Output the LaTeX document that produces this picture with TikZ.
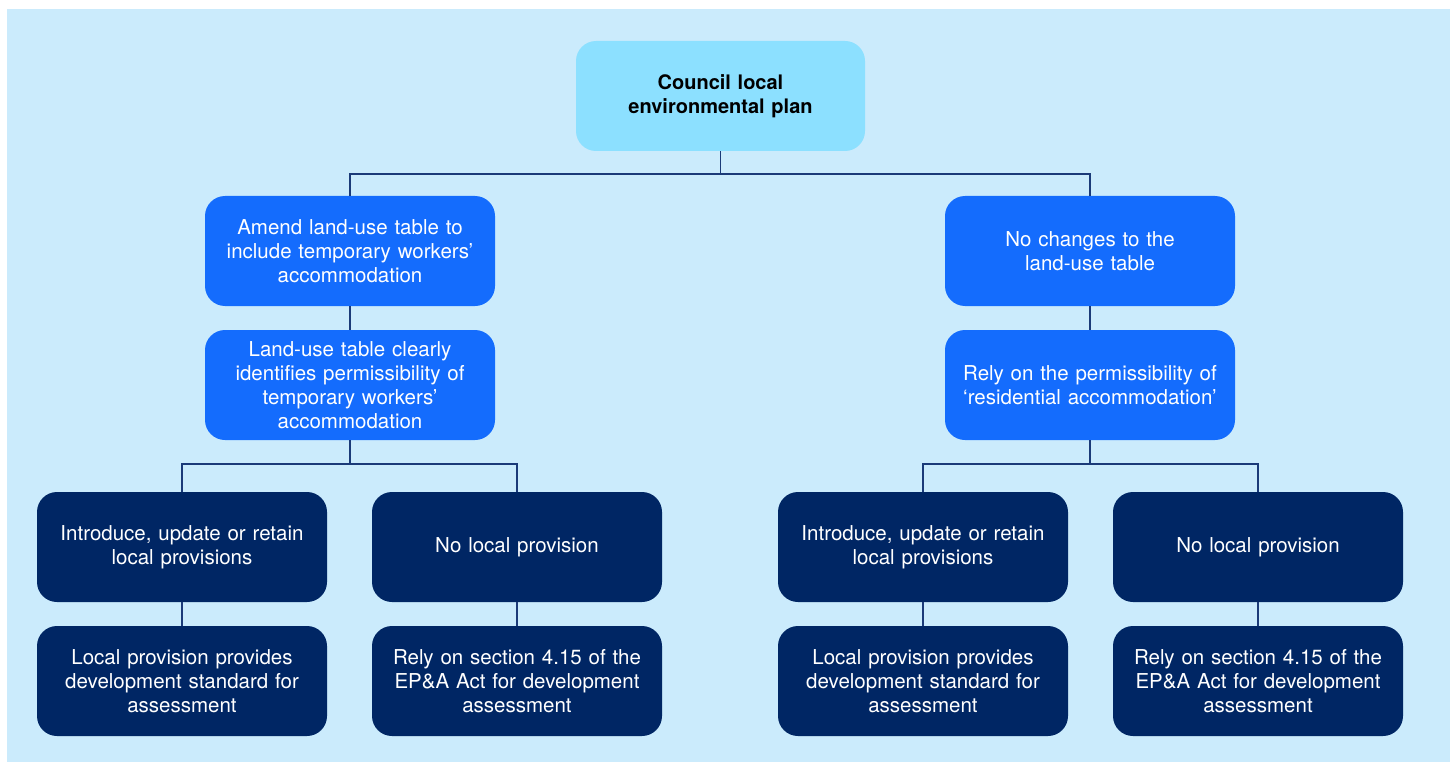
\documentclass[tikz,border=0pt]{standalone}
\usepackage{fontspec}
\setmainfont{TeX Gyre Heros}
\definecolor{bgc}{HTML}{CBEBFC}
\definecolor{topc}{HTML}{8CE0FF}
\definecolor{bluec}{HTML}{146CFD}
\definecolor{navyc}{HTML}{002664}
\definecolor{linec}{HTML}{1B3A78}
\begin{document}
\begin{tikzpicture}[x=1pt,y=-1pt,
  box/.style={rounded corners=20pt, minimum width=290pt, minimum height=110pt,
    text width=285pt, align=center, inner sep=0pt,
    font=\fontsize{20.5}{24}\selectfont},
  topbox/.style={box, fill=topc, minimum width=289pt, text=black, font=\fontsize{20}{24}\selectfont\bfseries},
  bluebox/.style={box, fill=bluec, text=white},
  navybox/.style={box, fill=navyc, text=white},
  conn/.style={draw=linec, line width=1.4pt}]
\useasboundingbox (0,0) rectangle (1450,762);
\fill[bgc] (7,9) rectangle (1450,762);

\node[topbox] (top) at (720.5,96) {Council local\\environmental plan};

\node[bluebox] (a1) at (350,251) {Amend land-use table to\\include temporary workers’\\accommodation};
\node[bluebox] (a2) at (350,385) {Land-use table clearly\\identifies permissibility of\\temporary workers’\\accommodation};
\node[bluebox] (b1) at (1090,251) {No changes to the\\land-use table};
\node[bluebox] (b2) at (1090,385) {Rely on the permissibility of\\‘residential accommodation’};

\node[navybox] (c1) at (182,547) {Introduce, update or retain\\local provisions};
\node[navybox] (c2) at (517,547) {No local provision};
\node[navybox] (c3) at (923,547) {Introduce, update or retain\\local provisions};
\node[navybox] (c4) at (1258,547) {No local provision};

\node[navybox] (d1) at (182,681) {Local provision provides\\development standard for\\assessment};
\node[navybox] (d2) at (517,681) {Rely on section 4.15 of the\\EP\&A Act for development\\assessment};
\node[navybox] (d3) at (923,681) {Local provision provides\\development standard for\\assessment};
\node[navybox] (d4) at (1258,681) {Rely on section 4.15 of the\\EP\&A Act for development\\assessment};

\coordinate (j0) at (720.5,174);
\coordinate (jl) at (350,464);
\coordinate (jr) at (1090,464);

\draw[conn] (top.south) -- (j0);
\draw[conn] (a1.north) |- (j0);
\draw[conn] (b1.north) |- (j0);
\draw[conn] (a1.south) -- (a2.north);
\draw[conn] (b1.south) -- (b2.north);
\draw[conn] (a2.south) -- (jl);
\draw[conn] (b2.south) -- (jr);
\draw[conn] (c1.north) |- (jl);
\draw[conn] (c2.north) |- (jl);
\draw[conn] (c3.north) |- (jr);
\draw[conn] (c4.north) |- (jr);
\draw[conn] (c1.south) -- (d1.north);
\draw[conn] (c2.south) -- (d2.north);
\draw[conn] (c3.south) -- (d3.north);
\draw[conn] (c4.south) -- (d4.north);
\end{tikzpicture}
\end{document}
